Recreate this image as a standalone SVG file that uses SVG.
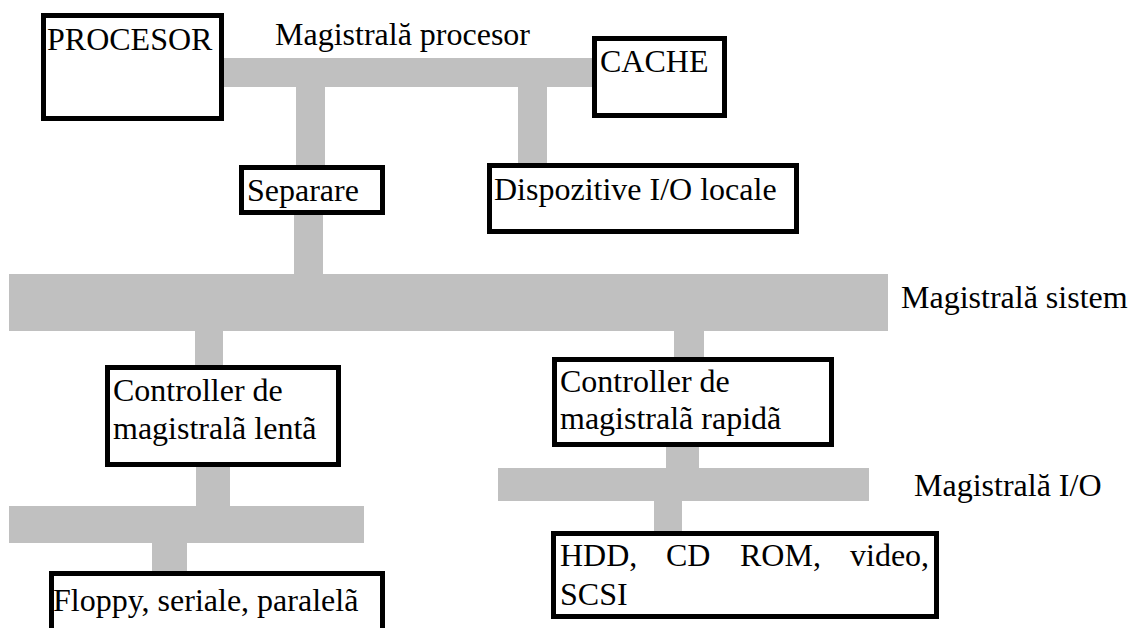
<svg xmlns="http://www.w3.org/2000/svg" width="1134" height="628" viewBox="0 0 1134 628">
<style>
.bus{fill:#C0C0C0;stroke:none}
.box{fill:#FFFFFF;stroke:#000000;stroke-width:5}
.t{font-family:'Liberation Serif','Times New Roman','DejaVu Serif',serif;font-size:32px;fill:#000000}
</style>
<rect width="1134" height="628" fill="#FFFFFF"/>
<g id="connectors">
<rect class="bus" x="224" y="58" width="368" height="29"/>
<rect class="bus" x="296" y="87" width="29" height="79"/>
<rect class="bus" x="518" y="87" width="29" height="77"/>
<rect class="bus" x="294" y="214" width="29" height="60"/>
<rect class="bus" x="9" y="274" width="879" height="57"/>
<rect class="bus" x="195" y="330" width="28" height="36"/>
<rect class="bus" x="674" y="330" width="30" height="28"/>
<rect class="bus" x="196" y="466" width="34" height="40"/>
<rect class="bus" x="9" y="506" width="355" height="37"/>
<rect class="bus" x="152" y="542" width="35" height="30"/>
<rect class="bus" x="666" y="446" width="33" height="22"/>
<rect class="bus" x="498" y="468" width="371" height="33"/>
<rect class="bus" x="654" y="500" width="28" height="32"/>
</g>
<g font-family="Liberation Serif, Times New Roman, DejaVu Serif, serif" font-size="32">
<g id="bus-labels">
<text class="t" x="275" y="45">Magistrală procesor</text>
<text class="t" x="901" y="308">Magistrală sistem</text>
<text class="t" x="914" y="496">Magistrală I/O</text>
</g>
<g id="procesor">
<rect class="box" x="43.5" y="15.5" width="178" height="103"/>
<text class="t" x="47" y="50">PROCESOR</text>
</g>
<g id="cache">
<rect class="box" x="594.5" y="38.5" width="130" height="77"/>
<text class="t" x="600" y="72">CACHE</text>
</g>
<g id="separare">
<rect class="box" x="241.5" y="167.5" width="141" height="45"/>
<text class="t" x="247" y="201">Separare</text>
</g>
<g id="dispozitive">
<rect class="box" x="489.5" y="165.5" width="307" height="66"/>
<text class="t" x="494" y="200">Dispozitive I/O locale</text>
</g>
<g id="controller-lenta">
<rect class="box" x="107.5" y="367.5" width="231" height="97"/>
<text class="t" x="113" y="401">Controller de</text>
<text class="t" x="113" y="439">magistralã lentã</text>
</g>
<g id="controller-rapida">
<rect class="box" x="554.5" y="359.5" width="277" height="85"/>
<text class="t" x="560" y="392">Controller de</text>
<text class="t" x="560" y="429">magistralã rapidã</text>
</g>
<g id="floppy">
<rect class="box" x="51.5" y="573.5" width="331" height="70"/>
<text class="t" x="53" y="611">Floppy, seriale, paralelã</text>
</g>
<g id="hdd">
<rect class="box" x="553.5" y="533.5" width="383" height="83"/>
<text class="t" y="566"><tspan x="560">HDD,</tspan><tspan x="666">CD</tspan><tspan x="740">ROM,</tspan><tspan x="850">video,</tspan></text>
<text class="t" x="560" y="605">SCSI</text>
</g>
</g>
</svg>
